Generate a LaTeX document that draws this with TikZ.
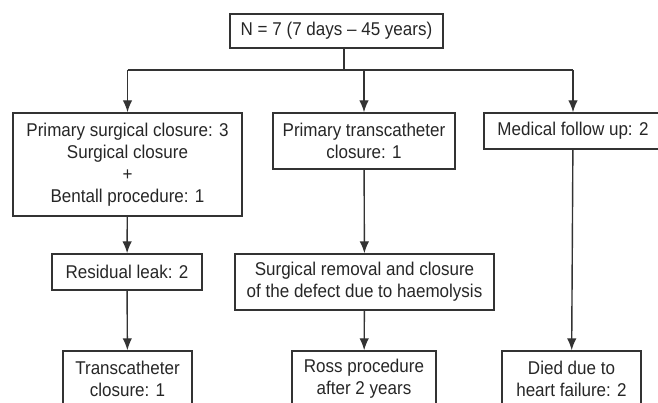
\documentclass[tikz,border=0pt]{standalone}
\usepackage{fontspec}
\setmainfont{Liberation Sans}[FakeStretch=0.92]
\usetikzlibrary{arrows.meta}
\usetikzlibrary{positioning}

\begin{document}
\begin{tikzpicture}[x=1pt,y=-1pt,
    box/.style={draw=black!80,line width=1.4pt,inner sep=0pt,align=center,text=black!85,
      font=\fontsize{18.5}{22}\selectfont},
    flow/.style={draw=black!80,line width=1.4pt,-{Latex[length=12pt,width=9.5pt]}}]
    \useasboundingbox (0,0) rectangle (658,403);

    \node[box,minimum width=213,minimum height=34] (N) at (336.5,31) {N = 7 (7 days – 45 years)};
    \node[box,minimum width=229,minimum height=103] (PSC) at (127.5,164.5)
        {Primary surgical closure: 3\\Surgical closure\\+\\Bentall procedure: 1};
    \node[box,minimum width=182,minimum height=56] (PTC) at (364,141)
        {Primary transcatheter\\closure: 1};
    \node[box,minimum width=178,minimum height=36] (MFU) at (573,131) {Medical follow up: 2};
    \node[box,minimum width=150,minimum height=36] (RL) at (127,272) {Residual leak: 2};
    \node[box,minimum width=259,minimum height=56] (SR) at (364.5,282)
        {Surgical removal and closure\\of the defect due to haemolysis};
    \node[box,minimum width=129,minimum height=56] (TC) at (127.5,379) {Transcatheter\\closure: 1};
    \node[box,minimum width=144,minimum height=56] (RP) at (364,379) {Ross procedure\\after 2 years};
    \node[box,minimum width=139,minimum height=56] (DD) at (571.5,379) {Died due to\\heart failure: 2};

    \coordinate (split) at (344,70);
    \coordinate (L) at (PSC.north |- split);
    \coordinate (R) at (MFU.north |- split);

    \draw[draw=black!80,line width=1.4pt] (split |- N.south) -- (split);
    \draw[draw=black!80,line width=1.4pt] (L) -- (R);
    \draw[flow] (L) -- (PSC);
    \draw[flow] (PTC.north |- split) -- (PTC);
    \draw[flow] (R) -- (MFU);
    \draw[flow] (PSC) -- (RL);
    \draw[flow] (RL) -- (TC);
    \draw[flow] (PTC) -- (SR);
    \draw[flow] (SR) -- (RP);
    \draw[flow] (MFU) -- (DD);
\end{tikzpicture}
\end{document}
